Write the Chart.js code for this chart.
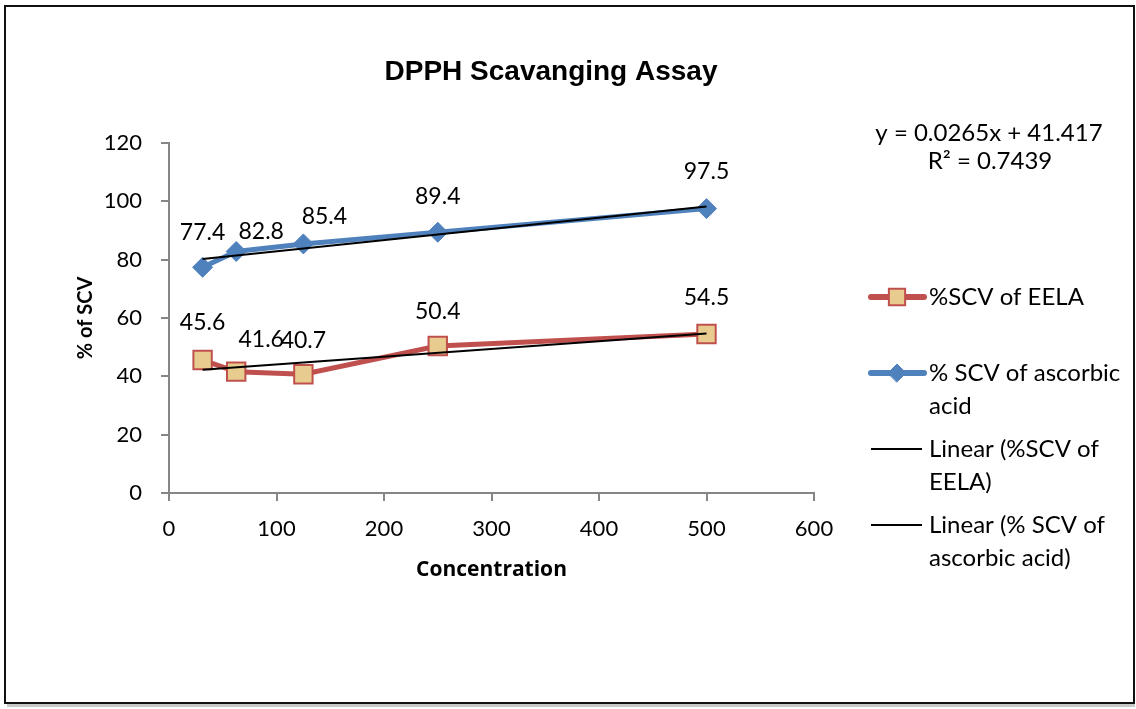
<!DOCTYPE html>
<html lang="en">
<head>
<meta charset="utf-8" />
<title>DPPH Scavanging Assay</title>
<script src="https://cdnjs.cloudflare.com/ajax/libs/Chart.js/4.4.0/chart.umd.js"></script>
<style>
  html, body { margin: 0; padding: 0; background: #fff; overflow: hidden; }
  canvas { display: block; }
</style>
</head>
<body>
<canvas id="canvas" width="1136" height="709"></canvas>
<script>
// concentrations (x) and % scavenging values
const concentration = [31.25, 62.5, 125, 250, 500];
const scvEELA = [45.6, 41.6, 40.7, 50.4, 54.5];
const scvAscorbic = [77.4, 82.8, 85.4, 89.4, 97.5];
const seriesNames = ["%SCV of EELA", "% SCV of ascorbic acid"];
const chartTitle = "DPPH Scavanging Assay";

const xTicks = [0, 100, 200, 300, 400, 500, 600];
const yTicks = [0, 20, 40, 60, 80, 100, 120];

const bodyFont = "Lato";

// least squares fit, like Excel's linear trendline
function linFit(xs, ys) {
    const n = xs.length;
    const mx = xs.reduce((a, b) => a + b, 0) / n;
    const my = ys.reduce((a, b) => a + b, 0) / n;
    let sxy = 0, sxx = 0, syy = 0;
    for (let i = 0; i < n; i++) {
        sxy += (xs[i] - mx) * (ys[i] - my);
        sxx += (xs[i] - mx) * (xs[i] - mx);
        syy += (ys[i] - my) * (ys[i] - my);
    }
    const slope = sxy / sxx;
    const intercept = my - slope * mx;
    return { slope, intercept, r2: (sxy * sxy) / (sxx * syy) };
}

function trendPoints(fit) {
    const x0 = concentration[0], x1 = concentration[concentration.length - 1];
    return [
        { x: x0, y: fit.intercept + fit.slope * x0 },
        { x: x1, y: fit.intercept + fit.slope * x1 }
    ];
}

function toPoints(ys) {
    return concentration.map((x, i) => ({ x: x, y: ys[i] }));
}

const fitEELA = linFit(concentration, scvEELA);
const fitAsc = linFit(concentration, scvAscorbic);

const framePlugin = {
    id: 'frame',
    beforeDraw(chart) {
        const ctx = chart.ctx;
        ctx.save();
        ctx.fillStyle = '#fff';
        ctx.fillRect(0, 0, chart.width, chart.height);
        ctx.fillStyle = '#c8c8c8';
        ctx.fillRect(7, 704, 1128, 3);
        ctx.strokeStyle = '#111';
        ctx.lineWidth = 2;
        ctx.strokeRect(5, 6, 1129, 697);

        ctx.fillStyle = '#000';
        ctx.font = 'bold 28px "Liberation Sans"';
        ctx.textAlign = 'center';
        ctx.textBaseline = 'middle';
        ctx.fillText(chartTitle, 551, 72);
        ctx.restore();
    }
};

// value labels above the markers (a few were dragged aside in the original)
const labelPlugin = {
    id: 'valueLabels',
    afterDatasetsDraw(chart) {
        const ctx = chart.ctx;
        ctx.save();
        ctx.font = '23px ' + bodyFont;
        ctx.fillStyle = '#000';
        ctx.textAlign = 'center';
        ctx.textBaseline = 'middle';
        chart.data.datasets.forEach((ds, di) => {
            if (!ds.showValues) return;
            chart.getDatasetMeta(di).data.forEach((pt, i) => {
                const nudge = ds.labelNudge[i];
                ctx.fillText(ds.data[i].y.toFixed(1), pt.x + nudge[0], pt.y - 36 + nudge[1]);
            });
        });
        ctx.restore();
    }
};

// right side legend with wrapped entries plus the trendline equation
const sideLegend = {
    id: 'sideLegend',
    afterDraw(chart) {
        const ctx = chart.ctx;
        const left = chart.chartArea.right + 55;
        const top0 = 297;
        ctx.save();
        ctx.font = '24px ' + bodyFont;
        ctx.textBaseline = 'middle';
        chart.data.datasets.forEach((ds, i) => {
            const y = top0 + i * 76;
            ctx.strokeStyle = ds.borderColor;
            ctx.lineWidth = ds.isTrend ? 2 : 6;
            ctx.lineCap = ds.isTrend ? 'butt' : 'round';
            ctx.beginPath();
            ctx.moveTo(left + 2, y);
            ctx.lineTo(left + (ds.isTrend ? 53 : 55), y);
            ctx.stroke();
            if (!ds.isTrend) {
                ctx.fillStyle = ds.pointBackgroundColor;
                ctx.strokeStyle = ds.pointBorderColor;
                ctx.lineWidth = ds.pointBorderWidth;
                Chart.helpers.drawPoint(ctx, {
                    pointStyle: ds.pointStyle,
                    radius: ds.pointStyle === 'rect' ? 11.5 : 9,
                    borderWidth: ds.pointBorderWidth
                }, left + 28, y);
            }
            ctx.fillStyle = '#000';
            ctx.textAlign = 'left';
            ds.legendLines.forEach((line, k) => {
                ctx.fillText(line, left + 60, y + k * 33);
            });
        });

        ctx.textAlign = 'center';
        const eq = 'y = ' + fitEELA.slope.toFixed(4) + 'x + ' + fitEELA.intercept.toFixed(3);
        ctx.fillText(eq, 989, 133);
        ctx.fillText('R\u00b2 = ' + fitEELA.r2.toFixed(4), 990, 161);
        ctx.restore();
    }
};

new Chart('canvas', {
    type: 'line',
    data: {
        datasets: [{
            label: seriesNames[0],
            legendLines: ['%SCV of EELA'],
            data: toPoints(scvEELA),
            labelNudge: [[0, -1], [25, 4], [0, 2], [0, 2], [0, 0]],
            borderColor: '#C0504D',
            borderWidth: 5,
            pointStyle: 'rect',
            pointRadius: 13,
            pointBackgroundColor: '#E8CB8F',
            pointBorderColor: '#C0504D',
            pointBorderWidth: 2,
            showValues: true,
            order: 2
        }, {
            label: seriesNames[1],
            legendLines: ['% SCV of ascorbic', 'acid'],
            data: toPoints(scvAscorbic),
            labelNudge: [[0, 1], [25, 16], [21, 9], [0, 0], [0, -1]],
            borderColor: '#4F81BD',
            borderWidth: 5,
            pointStyle: 'rectRot',
            pointRadius: 10,
            pointBackgroundColor: '#4F81BD',
            pointBorderColor: '#4F81BD',
            pointBorderWidth: 1,
            showValues: true,
            order: 2
        }, {
            label: 'Linear (' + seriesNames[0] + ')',
            legendLines: ['Linear (%SCV of', 'EELA)'],
            data: trendPoints(fitEELA),
            borderColor: '#000',
            borderWidth: 2,
            pointRadius: 0,
            isTrend: true,
            order: 1
        }, {
            label: 'Linear (' + seriesNames[1] + ')',
            legendLines: ['Linear (% SCV of', 'ascorbic acid)'],
            data: trendPoints(fitAsc),
            borderColor: '#000',
            borderWidth: 2,
            pointRadius: 0,
            isTrend: true,
            order: 1
        }]
    },
    options: {
        responsive: false,
        animation: false,
        devicePixelRatio: 1,
        layout: { padding: { left: 70, top: 143, right: 322, bottom: 122 } },
        plugins: {
            legend: { display: false },
            tooltip: { enabled: false },
            title: { display: false }
        },
        scales: {
            x: {
                type: 'linear',
                min: 0,
                max: 600,
                afterBuildTicks(scale) { scale.ticks = xTicks.map(v => ({ value: v })); },
                afterFit(scale) { scale.height = 94; },
                grid: { drawOnChartArea: false, tickLength: 8, color: '#868686', lineWidth: 2 },
                border: { color: '#868686', width: 2 },
                ticks: { color: '#000', padding: 15, maxRotation: 0, font: { family: bodyFont, size: 22 } },
                title: {
                    display: true,
                    text: 'Concentration',
                    color: '#000',
                    padding: { top: 4, bottom: 4 },
                    font: { family: 'Open Sans', size: 21, weight: 'bold' }
                }
            },
            y: {
                min: 0,
                max: 120,
                afterBuildTicks(scale) { scale.ticks = yTicks.map(v => ({ value: v })); },
                afterFit(scale) { scale.width = 99; },
                grid: { drawOnChartArea: false, tickLength: 8, color: '#868686', lineWidth: 2 },
                border: { color: '#868686', width: 2 },
                ticks: { color: '#000', padding: 19, font: { family: bodyFont, size: 22 } },
                title: {
                    display: true,
                    text: '% of SCV',
                    color: '#000',
                    padding: { top: 4, bottom: 4 },
                    font: { family: bodyFont, size: 20, weight: 'bold' }
                }
            }
        }
    },
    plugins: [framePlugin, labelPlugin, sideLegend]
});
</script>
</body>
</html>
